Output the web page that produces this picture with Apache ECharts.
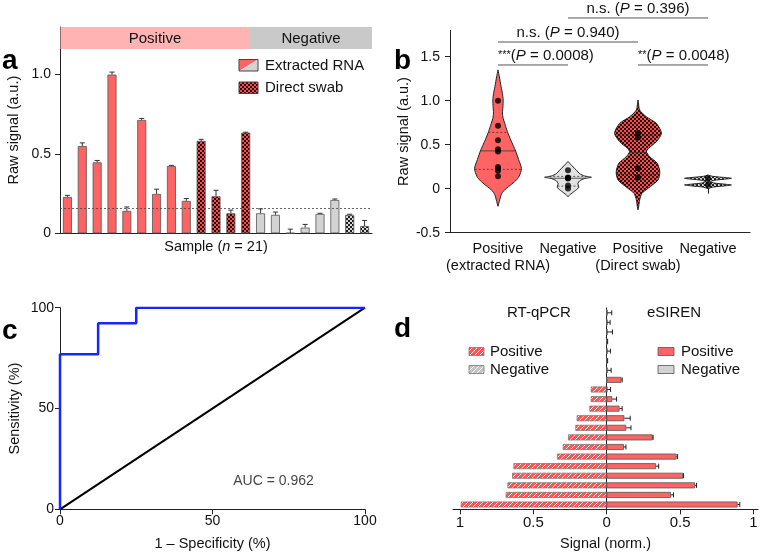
<!DOCTYPE html>
<html><head><meta charset="utf-8">
<script src="https://cdn.jsdelivr.net/npm/echarts@6/dist/echarts.min.js"></script>
<style>html,body{margin:0;padding:0;background:#fff}#c{width:761px;height:554px}</style>
</head><body><div id="c"></div>
<script>
const FONT = "'Liberation Sans', Arial, Helvetica, sans-serif";
const TXT = '#111';

// ---------- Panel a data ----------
const extractedPos = [0.229, 0.55, 0.447, 1.0, 0.141, 0.714, 0.248, 0.424, 0.204];
const extractedPosErr = [0.01, 0.02, 0.012, 0.016, 0.025, 0.01, 0.03, 0.004, 0.015];
const swabPos = [0.582, 0.233, 0.126, 0.634];
const swabPosErr = [0.01, 0.038, 0.02, 0.003];
const extractedNeg = [0.126, 0.116, 0.002, 0.036, 0.122, 0.21];
const extractedNegErr = [0.028, 0.018, 0.024, 0.02, 0.004, 0.006];
const swabNeg = [0.116, 0.046];
const swabNegErr = [0.004, 0.035];
const threshold = 0.164;
const aTicks = [0, 0.5, 1.0];

// ---------- Panel b data ----------
const bCats = ['Positive\n(extracted RNA)', 'Negative', 'Positive\n(Direct swab)', 'Negative'];
const bTicks = [-0.5, 0, 0.5, 1.0, 1.5];
const violinPosRNA = [[1.35,0],[1.27,0.06],[1.16,0.13],[1.08,0.19],[1.01,0.22],[0.93,0.21],[0.86,0.19],[0.80,0.22],[0.74,0.29],[0.65,0.40],[0.55,0.55],[0.43,0.75],[0.33,0.88],[0.23,1.0],[0.14,0.9],[0.09,0.75],[0.04,0.53],[-0.03,0.22],[-0.08,0.12],[-0.13,0.07],[-0.2,0]];
const violinNegRNA = [[0.31,0],[0.28,0.1],[0.26,0.17],[0.21,0.36],[0.17,0.5],[0.145,0.7],[0.13,1.0],[0.115,0.7],[0.09,0.5],[0.06,0.42],[0.03,0.45],[0.01,0.45],[-0.03,0.27],[-0.06,0.12],[-0.09,0]];
const violinPosSwab = [[1.008,0],[0.95,0.03],[0.894,0.07],[0.818,0.35],[0.743,0.78],[0.63,1.0],[0.534,0.78],[0.459,0.45],[0.42,0.36],[0.364,0.5],[0.288,0.82],[0.19,0.93],[0.099,0.85],[0.004,0.43],[-0.052,0.17],[-0.128,0.07],[-0.2,0.03],[-0.24,0]];
const violinNegSwab = [[0.156,0],[0.14,0.2],[0.125,0.8],[0.118,1.0],[0.108,0.7],[0.095,0.25],[0.08,0.12],[0.065,0.25],[0.052,0.7],[0.042,1.0],[0.032,0.7],[0.018,0.2],[0.0,0]];
const quartPosRNA = [0.22, 0.43, 0.64];
const quartNegRNA = [0.03, 0.119, 0.14];
const quartPosSwab = [0.16, 0.41, 0.61];
const quartNegSwab = [0.046, 0.08, 0.116];
// [from category, to category, y, stars, P, text alignment]
const brackets = [[0, 1, 1.406, '***', '0.0008', 'left'], [2, 3, 1.406, '**', '0.0048', 'left'], [0, 2, 1.667, 'n.s. ', '0.940', 'center'], [1, 3, 1.94, 'n.s. ', '0.396', 'center']];

// ---------- Panel c data ----------
const rocFpr = [0, 0, 12.5, 12.5, 25, 25, 100];
const rocTpr = [0, 76.9, 76.9, 92.3, 92.3, 100, 100];
const refFpr = [0, 100];
const refTpr = [0, 100];
const auc = 0.962;

// ---------- Panel d data (bottom row first) ----------
const dRows = Array.from({length: 21}, (_, i) => 'S' + (i + 1));
const rtqpcr = [0.995, 0.689, 0.677, 0.645, 0.636, 0.339, 0.30, 0.264, 0.214, 0.205, 0.118, 0.109, 0.109, 0, 0, 0, 0, 0, 0, 0, 0];
const esiren = [0.892, 0.437, 0.602, 0.52, 0.336, 0.476, 0.117, 0.313, 0.133, 0.12, 0.087, 0.037, 0.003, 0.1, 0.004, 0.004, 0.004, 0.004, 0.004, 0.004, 0.004];
const esirenErr = [0.015, 0.018, 0.01, 0.003, 0.018, 0.007, 0.014, 0.003, 0.032, 0.04, 0.018, 0.03, 0.023, 0.005, 0.026, 0.002, 0.021, 0.002, 0.035, 0.019, 0.03];
const esirenPositive = [1,1,1,1,1,1,1,1,1,1,1,1,1,1,0,0,0,0,0,0,0];
const dTicks = [-1, -0.5, 0, 0.5, 1];

// ---------- patterns ----------
function checker(c1, c2, s) {
  const cv = document.createElement('canvas'); cv.width = cv.height = 2 * s;
  const g = cv.getContext('2d'); g.fillStyle = c1; g.fillRect(0, 0, 2 * s, 2 * s);
  g.fillStyle = c2; g.fillRect(0, 0, s, s); g.fillRect(s, s, s, s);
  return {image: cv, repeat: 'repeat'};
}
function hatch(bg, fg, s, lw) {
  const cv = document.createElement('canvas'); cv.width = cv.height = s;
  const g = cv.getContext('2d'); g.fillStyle = bg; g.fillRect(0, 0, s, s);
  g.strokeStyle = fg; g.lineWidth = lw;
  [[0, s, s, 0], [-s, s, s, -s], [0, 2 * s, 2 * s, 0]].forEach(l => { g.beginPath(); g.moveTo(l[0], l[1]); g.lineTo(l[2], l[3]); g.stroke(); });
  return {image: cv, repeat: 'repeat'};
}
const RED = '#ff6464', GREY = '#d3d3d3', EDGE = '#555';
const redChk = checker('#ff4848', '#1c1010', 2);
const greyChk = checker('#d8d8d8', '#1c1c1c', 2);
const redHatch = hatch('#ff5555', '#ffffff', 5, 1);
const greyHatch = hatch('#c4c4c4', '#f4f4f4', 5, 1);

// ---------- panel a assembled ----------
const aVals = extractedPos.concat(swabPos, extractedNeg, swabNeg);
const aErrs = extractedPosErr.concat(swabPosErr, extractedNegErr, swabNegErr);
const aFill = [].concat(extractedPos.map(() => RED), swabPos.map(() => redChk), extractedNeg.map(() => GREY), swabNeg.map(() => greyChk));
const aCats = aVals.map((_, i) => String(i + 1));

function vErr(params, api) {
  const x = api.value(0), v = api.value(1), e = api.value(2);
  const p0 = api.coord([x, v]), p1 = api.coord([x, v + e]);
  return {type: 'group', children: [
    {type: 'line', shape: {x1: p0[0], y1: p0[1], x2: p1[0], y2: p1[1]}, style: {stroke: '#333', lineWidth: 1}},
    {type: 'line', shape: {x1: p1[0] - 2.5, y1: p1[1], x2: p1[0] + 2.5, y2: p1[1]}, style: {stroke: '#333', lineWidth: 1}}
  ]};
}
function hErr(params, api) {
  const v = api.value(0), y = api.value(1), e = api.value(2);
  const p0 = api.coord([v, y]), p1 = api.coord([v + e, y]);
  return {type: 'group', children: [
    {type: 'line', shape: {x1: p0[0], y1: p0[1], x2: p1[0], y2: p1[1]}, style: {stroke: '#222', lineWidth: 1}},
    {type: 'line', shape: {x1: p1[0], y1: p1[1] - 2.5, x2: p1[0], y2: p1[1] + 2.5}, style: {stroke: '#222', lineWidth: 1}}
  ]};
}

// ---------- violins ----------
const violins = [
  {cat: 0, profile: violinPosRNA, q: quartPosRNA, fill: RED},
  {cat: 1, profile: violinNegRNA, q: quartNegRNA, fill: '#e2e2e2'},
  {cat: 2, profile: violinPosSwab, q: quartPosSwab, fill: redChk},
  {cat: 3, profile: violinNegSwab, q: quartNegSwab, fill: greyChk}
];
function densAt(profile, val) {
  for (let i = 0; i < profile.length - 1; i++) {
    const a = profile[i], b = profile[i + 1];
    if ((val <= a[0] && val >= b[0])) { const t = (a[0] - val) / (a[0] - b[0]); return a[1] + t * (b[1] - a[1]); }
  }
  return 0;
}
function renderViolin(params, api) {
  const v = violins[params.dataIndex];
  const cx = api.coord([v.cat, 0])[0];
  const hw = api.size([1, 0])[0] * 0.335;
  const left = [], right = [];
  v.profile.forEach(([val, d]) => { const y = api.coord([v.cat, val])[1]; right.push([cx + d * hw, y]); left.push([cx - d * hw, y]); });
  const pts = right.concat(left.reverse());
  const children = [{type: 'polygon', shape: {points: pts, smooth: 0.25}, style: {fill: v.fill, stroke: '#222', lineWidth: 1}}];
  v.q.forEach((qv, k) => {
    const w = densAt(v.profile, qv) * hw; const y = api.coord([v.cat, qv])[1];
    children.push({type: 'line', shape: {x1: cx - w, y1: y, x2: cx + w, y2: y}, style: {stroke: '#333', lineWidth: 0.8, lineDash: k === 1 ? null : [2, 2]}});
  });
  return {type: 'group', children};
}
const bPoints = [];
[extractedPos, extractedNeg, swabPos, swabNeg].forEach((arr, c) => arr.forEach(v => bPoints.push([c, v])));

function renderBracket(params, api) {
  const b = brackets[params.dataIndex];
  const p1 = api.coord([b[0], b[2]]), p2 = api.coord([b[1], b[2]]);
  const tx = b[5] === 'left' ? p1[0] : (p1[0] + p2[0]) / 2;
  const isStar = b[3].indexOf('*') >= 0;
  const text = isStar ? '{s|' + b[3] + '}{n|(}{i|P}{n| = ' + b[4] + ')}' : '{n|' + b[3] + '(}{i|P}{n| = ' + b[4] + ')}';
  return {type: 'group', children: [
    {type: 'line', shape: {x1: p1[0], y1: p1[1], x2: p2[0], y2: p2[1]}, style: {stroke: '#555', lineWidth: 1}},
    {type: 'text', x: tx, y: p1[1] - 9.5, style: {text, align: b[5], verticalAlign: 'middle', fill: TXT,
      rich: {n: {fontSize: 15, fontFamily: FONT, fill: TXT}, i: {fontSize: 15, fontFamily: FONT, fontStyle: 'italic', fill: TXT}, s: {fontSize: 11, fontFamily: FONT, fill: TXT, padding: [0, 0, 2, 0]}}}}
  ]};
}

const axisLineStyle = {color: '#222', width: 1};
const lbl = (size) => ({color: TXT, fontSize: size, fontFamily: FONT});

const option = {
  animation: false,
  backgroundColor: '#fff',
  textStyle: {fontFamily: FONT},
  grid: [
    {left: 60, top: 27, width: 312, height: 206.3, outerBoundsMode: 'none'},
    {left: 450, top: 30.3, width: 300, height: 202.4, outerBoundsMode: 'none'},
    {left: 463, top: 30.3, width: 280, height: 202.4, outerBoundsMode: 'none'},
    {left: 60, top: 307.7, width: 305, height: 201.6, outerBoundsMode: 'none'},
    {left: 453, top: 308, width: 305, height: 201.3, outerBoundsMode: 'none'}
  ],
  xAxis: [
    {gridIndex: 0, type: 'category', data: aCats, axisLine: {lineStyle: axisLineStyle}, axisTick: {show: false}, axisLabel: {show: false},
      name: '{a|Sample (}{i|n}{a| = 21)}', nameLocation: 'middle', nameGap: 6,
      nameTextStyle: {verticalAlign: 'top', rich: {a: {fontSize: 14.5, color: TXT, fontFamily: FONT}, i: {fontSize: 14.5, color: TXT, fontStyle: 'italic', fontFamily: FONT}}}},
    {gridIndex: 1, type: 'value', min: 0, max: 1, axisLine: {show: true, onZero: false, lineStyle: axisLineStyle}, axisTick: {show: false}, axisLabel: {show: false}, splitLine: {show: false}},
    {gridIndex: 2, type: 'category', data: bCats, axisLine: {show: false}, axisTick: {show: true, alignWithLabel: true, length: 5, lineStyle: axisLineStyle},
      axisLabel: Object.assign(lbl(14.5), {margin: 8, lineHeight: 17, interval: 0})},
    {gridIndex: 3, type: 'value', min: 0, max: 100, interval: 50, axisLine: {show: true, onZero: false, lineStyle: axisLineStyle}, axisTick: {show: true, length: 5, lineStyle: axisLineStyle},
      axisLabel: Object.assign(lbl(14), {margin: 5}), splitLine: {show: false},
      name: '1 – Specificity (%)', nameLocation: 'middle', nameGap: 27, nameTextStyle: Object.assign(lbl(14.5), {verticalAlign: 'top'})},
    {gridIndex: 4, type: 'value', min: -1.048, max: 1.031, axisLine: {show: true, onZero: false, lineStyle: axisLineStyle},
      axisTick: {show: true, length: 5, customValues: dTicks, lineStyle: axisLineStyle},
      axisLabel: Object.assign(lbl(15), {margin: 6, customValues: dTicks, formatter: v => String(Math.abs(v))}), splitLine: {show: false},
      name: 'Signal (norm.)', nameLocation: 'middle', nameGap: 27, nameTextStyle: Object.assign(lbl(14.5), {verticalAlign: 'top'})}
  ],
  yAxis: [
    {gridIndex: 0, type: 'value', min: 0, max: 1.3, axisLine: {show: true, lineStyle: axisLineStyle},
      axisTick: {show: true, length: 5, customValues: aTicks, lineStyle: axisLineStyle},
      axisLabel: Object.assign(lbl(14), {margin: 9, customValues: aTicks, formatter: v => v === 0 ? '0' : v.toFixed(1)}), splitLine: {show: false},
      name: 'Raw signal (a.u.)', nameLocation: 'middle', nameGap: 39, nameTextStyle: lbl(14.5)},
    {gridIndex: 1, type: 'value', min: -0.5, max: 1.8, axisLine: {show: true, onZero: false, lineStyle: axisLineStyle},
      axisTick: {show: true, length: 5, customValues: bTicks, lineStyle: axisLineStyle},
      axisLabel: Object.assign(lbl(14), {margin: 10, customValues: bTicks, formatter: v => v === 0 ? '0' : v.toFixed(1)}), splitLine: {show: false},
      name: 'Raw signal (a.u.)', nameLocation: 'middle', nameGap: 39, nameTextStyle: lbl(14.5)},
    {gridIndex: 2, type: 'value', min: -0.5, max: 1.8, show: false},
    {gridIndex: 3, type: 'value', min: 0, max: 100, interval: 50, axisLine: {show: true, onZero: false, lineStyle: axisLineStyle}, axisTick: {show: true, length: 5, lineStyle: axisLineStyle},
      axisLabel: Object.assign(lbl(14), {margin: 6}), splitLine: {show: false},
      name: 'Sensitivity (%)', nameLocation: 'middle', nameGap: 38, nameTextStyle: lbl(14.5)},
    {gridIndex: 4, type: 'category', data: dRows, axisLine: {show: true, onZero: true, lineStyle: axisLineStyle}, axisTick: {show: false}, axisLabel: {show: false}}
  ],
  series: [
    {type: 'bar', xAxisIndex: 0, yAxisIndex: 0, barWidth: 9, z: 2,
      data: aVals.map((v, i) => ({value: v, itemStyle: {color: aFill[i], borderColor: EDGE, borderWidth: 0.8}})),
      markLine: {silent: true, symbol: 'none', label: {show: false}, lineStyle: {type: [2, 2], color: '#444', width: 0.8}, data: [{yAxis: threshold}]}},
    {type: 'custom', xAxisIndex: 0, yAxisIndex: 0, z: 3, renderItem: vErr, data: aVals.map((v, i) => [i, v, aErrs[i]])},
    {type: 'custom', xAxisIndex: 2, yAxisIndex: 2, z: 2, renderItem: renderViolin, data: violins.map(v => [v.cat])},
    {type: 'scatter', xAxisIndex: 2, yAxisIndex: 2, z: 4, symbolSize: 6, itemStyle: {color: '#000'}, data: bPoints},
    {type: 'custom', xAxisIndex: 2, yAxisIndex: 2, z: 4, clip: false, renderItem: renderBracket, data: brackets.map(b => [b[0], b[2]])},
    {type: 'line', xAxisIndex: 3, yAxisIndex: 3, symbol: 'none', z: 2, lineStyle: {color: '#000', width: 2}, data: refFpr.map((v, i) => [v, refTpr[i]])},
    {type: 'line', xAxisIndex: 3, yAxisIndex: 3, symbol: 'none', z: 3, lineStyle: {color: '#1427ff', width: 2.5}, data: rocFpr.map((v, i) => [v, rocTpr[i]])},
    {type: 'scatter', xAxisIndex: 3, yAxisIndex: 3, symbolSize: 0, data: [[70, 14.2]],
      label: {show: true, position: 'inside', formatter: 'AUC = ' + auc, color: TXT, fontSize: 14, fontFamily: FONT}},
    {type: 'bar', xAxisIndex: 4, yAxisIndex: 4, barWidth: 6, barGap: '-100%', z: 2,
      itemStyle: {color: redHatch, borderColor: '#777', borderWidth: 0.8}, data: rtqpcr.map(v => -v)},
    {type: 'bar', xAxisIndex: 4, yAxisIndex: 4, barWidth: 6, barGap: '-100%', z: 2,
      data: esiren.map((v, i) => ({value: v, itemStyle: {color: esirenPositive[i] ? RED : GREY, borderColor: EDGE, borderWidth: 0.8}}))},
    {type: 'custom', xAxisIndex: 4, yAxisIndex: 4, z: 3, renderItem: hErr, data: esiren.map((v, i) => [v, i, esirenErr[i]])}
  ],
  graphic: [
    {type: 'text', x: 2, y: 47, style: {text: 'a', font: 'bold 28px ' + FONT, fill: '#000', verticalAlign: 'alphabetic', textVerticalAlign: 'alphabetic'}},
    {type: 'text', x: 394, y: 47, style: {text: 'b', font: 'bold 28px ' + FONT, fill: '#000', verticalAlign: 'alphabetic', textVerticalAlign: 'alphabetic'}},
    {type: 'text', x: 2, y: 317, style: {text: 'c', font: 'bold 28px ' + FONT, fill: '#000', verticalAlign: 'alphabetic', textVerticalAlign: 'alphabetic'}},
    {type: 'text', x: 394, y: 315, style: {text: 'd', font: 'bold 28px ' + FONT, fill: '#000', verticalAlign: 'alphabetic', textVerticalAlign: 'alphabetic'}},
    {type: 'rect', shape: {x: 60.5, y: 27, width: 189.5, height: 22}, style: {fill: '#ffb3b3'}, z: 1},
    {type: 'rect', shape: {x: 250, y: 27, width: 122, height: 22}, style: {fill: '#c9c9c9'}, z: 1},
    {type: 'text', x: 155, y: 38.5, style: {text: 'Positive', font: '15px ' + FONT, fill: TXT, align: 'center', verticalAlign: 'middle'}, z: 2},
    {type: 'text', x: 311, y: 38.5, style: {text: 'Negative', font: '15px ' + FONT, fill: TXT, align: 'center', verticalAlign: 'middle'}, z: 2},
    {type: 'polygon', shape: {points: [[239, 59.5], [258, 59.5], [239, 71]]}, style: {fill: RED}},
    {type: 'polygon', shape: {points: [[258, 59.5], [258, 71], [239, 71]]}, style: {fill: GREY}},
    {type: 'rect', shape: {x: 239, y: 59.5, width: 19, height: 11.5}, style: {fill: 'none', stroke: '#444', lineWidth: 1}},
    {type: 'rect', shape: {x: 239, y: 82, width: 19, height: 11.5}, style: {fill: redChk, stroke: '#444', lineWidth: 1}},
    {type: 'text', x: 265, y: 66, style: {text: 'Extracted RNA', font: '15px ' + FONT, fill: TXT, verticalAlign: 'middle'}},
    {type: 'text', x: 265, y: 88, style: {text: 'Direct swab', font: '15px ' + FONT, fill: TXT, verticalAlign: 'middle'}},
    {type: 'text', x: 539, y: 313, style: {text: 'RT-qPCR', font: '15px ' + FONT, fill: TXT, align: 'center', verticalAlign: 'middle'}},
    {type: 'text', x: 674, y: 313, style: {text: 'eSIREN', font: '15px ' + FONT, fill: TXT, align: 'center', verticalAlign: 'middle'}},
    {type: 'rect', shape: {x: 469, y: 347.5, width: 15, height: 8}, style: {fill: redHatch, stroke: '#777', lineWidth: 0.8}},
    {type: 'rect', shape: {x: 469, y: 365.5, width: 15, height: 8}, style: {fill: greyHatch, stroke: '#777', lineWidth: 0.8}},
    {type: 'text', x: 490, y: 352, style: {text: 'Positive', font: '15px ' + FONT, fill: TXT, verticalAlign: 'middle'}},
    {type: 'text', x: 490, y: 370, style: {text: 'Negative', font: '15px ' + FONT, fill: TXT, verticalAlign: 'middle'}},
    {type: 'rect', shape: {x: 658, y: 347.5, width: 16, height: 8}, style: {fill: RED, stroke: EDGE, lineWidth: 0.8}},
    {type: 'rect', shape: {x: 658, y: 365.5, width: 16, height: 8}, style: {fill: GREY, stroke: EDGE, lineWidth: 0.8}},
    {type: 'text', x: 681, y: 352, style: {text: 'Positive', font: '15px ' + FONT, fill: TXT, verticalAlign: 'middle'}},
    {type: 'text', x: 681, y: 370, style: {text: 'Negative', font: '15px ' + FONT, fill: TXT, verticalAlign: 'middle'}}
  ]
};
const chart = echarts.init(document.getElementById('c'), null, {renderer: 'canvas'});
chart.setOption(option);
</script>
</body></html>
